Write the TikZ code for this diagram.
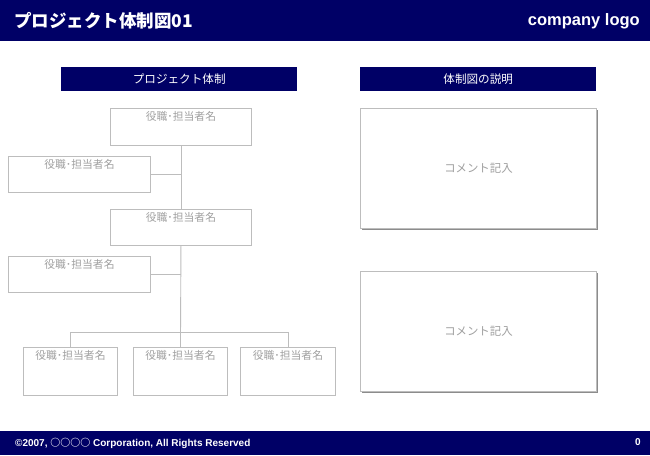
\documentclass[tikz,border=0pt]{standalone}
\usepackage{fontspec}
\setmainfont{Liberation Sans}
\newfontfamily\jp{Noto Sans CJK JP}
\definecolor{navy}{HTML}{000066}
\definecolor{boxline}{HTML}{BDBDBD}
\definecolor{boxtext}{HTML}{A0A0A0}
\definecolor{shadowc}{HTML}{8C8C8C}
\begin{document}
\begin{tikzpicture}[x=1pt,y=-1pt,
  bar/.style={fill=navy,draw=none},
  orgbox/.style={draw=boxline,line width=0.9pt,fill=white,rectangle,inner sep=0pt,anchor=north west},
  boxlabel/.style={text=boxtext,font=\jp\fontsize{10.8}{12}\selectfont,anchor=north,inner sep=0pt},
  head/.style={fill=navy,draw=none,rectangle,inner sep=0pt,anchor=north west,minimum width=236pt,minimum height=24pt,text=white,font=\jp\fontsize{11.6}{13}\selectfont},
  comment/.style={draw=boxline,line width=0.9pt,fill=white,rectangle,inner sep=0pt,anchor=north west,minimum width=236pt,minimum height=120pt,text=boxtext,font=\jp\fontsize{11.4}{13}\selectfont},
  link/.style={draw=boxline,line width=0.9pt}
]
\useasboundingbox (0,0) rectangle (650,455);
\fill[white] (0,0) rectangle (650,455);
% top bar
\fill[navy] (0,0) rectangle (650,41);
\node[anchor=west,text=white,font=\jp\bfseries\fontsize{17.5}{20}\selectfont,inner sep=0pt] (title) at (14,20.5) {プロジェクト体制図01};
\node[anchor=east,text=white,font=\bfseries\fontsize{16.5}{19}\selectfont,inner sep=0pt] (logo) at (640,21) {company logo};
% bottom bar
\fill[navy] (0,431) rectangle (650,455);
\node[anchor=west,text=white,font=\bfseries\fontsize{10}{12}\selectfont,inner sep=0pt] (copy) at (15,443.5) {©2007, {\jp ○○○○} Corporation, All Rights Reserved};
\node[anchor=east,text=white,font=\bfseries\fontsize{10}{12}\selectfont,inner sep=0pt] (pageno) at (641,442) {0};
% headers
\node[head] (h1) at (61,67) {プロジェクト体制};
\node[head] (h2) at (360,67) {体制図の説明};
% comment boxes with shadow
\fill[shadowc] (362,110) rectangle (598,230);
\node[comment] (c1) at (360,108) {コメント記入};
\fill[shadowc] (362,273) rectangle (598,393);
\node[comment] (c2) at (360,271) {コメント記入};
% org chart boxes
\node[orgbox,minimum width=141pt,minimum height=37pt] (top) at (110,108) {};
\node[orgbox,minimum width=142pt,minimum height=36pt] (l1) at (8,156) {};
\node[orgbox,minimum width=141pt,minimum height=36pt] (mid) at (110,209) {};
\node[orgbox,minimum width=142pt,minimum height=36pt] (l2) at (8,256) {};
\node[orgbox,minimum width=94pt,minimum height=48pt] (b1) at (23,347) {};
\node[orgbox,minimum width=94pt,minimum height=48pt] (b2) at (133,347) {};
\node[orgbox,minimum width=95pt,minimum height=48pt] (b3) at (240,347) {};
\foreach \b in {top,l1,mid,l2,b1,b2,b3}{
  \node[boxlabel] at ([yshift=-3.5pt]\b.north) {役職･担当者名};
}
% connectors
\coordinate (j1) at (top.south |- l1.east);
\coordinate (j2) at (top.south |- l2.east);
\coordinate (bus) at (180,332);
\draw[link] (top.south) -- (mid.north);
\draw[link] (l1.east) -- (j1);
\draw[link] (mid.south) -- (b2.north);
\draw[link] (l2.east) -- (j2);
\draw[link] (b1.north) -- (b1.north |- bus) -- (b3.north |- bus) -- (b3.north);
\end{tikzpicture}
\end{document}
